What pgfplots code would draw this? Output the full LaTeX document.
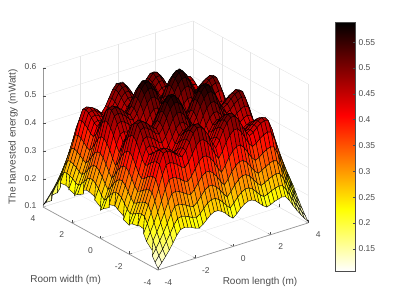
\documentclass[border=0pt]{standalone}
\usepackage{pgfplots}
\usepackage{fontspec}
\setmainfont{Liberation Sans}
\pgfplotsset{compat=1.18}
\definecolor{axc}{gray}{0.3}
\definecolor{axl}{gray}{0.6}
\definecolor{gridc}{gray}{0.9}
\pgfplotsset{colormap={hotr}{color(0)=(white) color(0.25)=(yellow) color(0.625)=(red) color(1)=(black)}}
\begin{document}
\begin{tikzpicture}
\path[use as bounding box] (0,0) rectangle (407pt,305pt);
\begin{axis}[
  disabledatascaling, anchor=origin, at={(175.5pt,90pt)},
  x={(18.75pt,5.875pt)}, y={(-14.375pt,7.875pt)}, z={(0pt,278pt)},
  xmin=-4,xmax=4,ymin=-4,ymax=4,zmin=0.1,zmax=0.6,
  xtick={-4,-2,0,2,4}, ytick={-4,-2,0,2,4}, ztick={0.1,0.2,0.3,0.4,0.5,0.6},
  /pgf/number format/assume math mode=true,
  /pgf/number format/fixed,
  grid=major, major grid style={gridc,line width=0.4pt},
  axis line style={draw=none},
  major z tick style={draw=none},
  tick style={axc,line width=0.4pt}, tick align=inside, major tick length=3pt,
  xtick pos=left, ytick pos=left,
  ticklabel style={font=\fontsize{8.5}{10}\selectfont,text=axc},
  xticklabel style={xshift=6pt,yshift=-5pt},
  yticklabel style={xshift=-5pt,yshift=-5pt},
  zticklabel style={xshift=-3pt},
  point meta min=0.107, point meta max=0.589,
  colormap name=hotr,
  clip=false,
  xlabel={Room length (m)}, ylabel={Room width (m)}, zlabel={The harvested energy (mWatt)},
  every axis x label/.style={at={(axis cs:4.507,0,-0.2374)},anchor=center,font=\fontsize{10}{12}\selectfont,text=axc},
  every axis y label/.style={at={(axis cs:0,7.645,-0.3503)},anchor=center,font=\fontsize{10}{12}\selectfont,text=axc},
  every axis z label/.style={at={(axis cs:0,11.3,0.0604)},anchor=center,rotate=90,font=\fontsize{10}{12}\selectfont,text=axc},
]
\draw[axl,line width=0.8pt] (axis cs:-4,4,0.1)--(axis cs:-4,4,0.6);
\draw[axl,line width=0.7pt] (axis cs:-4,4,0.1)--(axis cs:-4,-4,0.1)--(axis cs:4,-4,0.1);
\addplot3[surf,shader=faceted,faceted color=black,line width=0.36pt,mesh/rows=41,mesh/cols=41] table[row sep=\\,header=false,x expr={-4+0.2*mod(\coordindex,41)},y expr={-4+0.2*floor(\coordindex/41)},z index=0] {
.106\\.122\\.140\\.159\\.180\\.203\\.220\\.223\\.219\\.215\\.208\\.204\\.213\\.226\\.239\\.246\\.246\\.239\\.228\\.213\\.202\\.213\\.228\\.239\\.246\\.246\\.239\\.226\\.213\\.204\\.208\\.215\\.219\\.223\\.220\\.203\\.180\\.159\\.140\\.122\\.106\\
.122\\.141\\.161\\.184\\.208\\.234\\.254\\.257\\.253\\.248\\.240\\.236\\.246\\.261\\.276\\.284\\.284\\.276\\.263\\.246\\.233\\.246\\.263\\.276\\.284\\.284\\.276\\.261\\.246\\.236\\.240\\.248\\.253\\.257\\.254\\.234\\.208\\.184\\.161\\.141\\.122\\
.140\\.161\\.185\\.211\\.239\\.269\\.292\\.295\\.290\\.284\\.275\\.270\\.282\\.299\\.316\\.326\\.326\\.316\\.301\\.282\\.267\\.282\\.301\\.316\\.326\\.326\\.316\\.299\\.282\\.270\\.275\\.284\\.290\\.295\\.292\\.269\\.239\\.211\\.185\\.161\\.140\\
.159\\.184\\.211\\.240\\.272\\.306\\.332\\.336\\.331\\.323\\.314\\.308\\.321\\.341\\.360\\.371\\.371\\.360\\.343\\.321\\.304\\.321\\.343\\.360\\.371\\.371\\.360\\.341\\.321\\.308\\.314\\.323\\.331\\.336\\.332\\.306\\.272\\.240\\.211\\.184\\.159\\
.180\\.208\\.239\\.272\\.308\\.347\\.376\\.380\\.375\\.366\\.355\\.349\\.364\\.386\\.408\\.421\\.420\\.408\\.389\\.364\\.344\\.364\\.389\\.408\\.420\\.421\\.408\\.386\\.364\\.349\\.355\\.366\\.375\\.380\\.376\\.347\\.308\\.272\\.239\\.208\\.180\\
.203\\.234\\.269\\.306\\.347\\.391\\.424\\.428\\.422\\.413\\.400\\.393\\.409\\.434\\.459\\.474\\.473\\.459\\.438\\.409\\.388\\.409\\.438\\.459\\.473\\.474\\.459\\.434\\.409\\.393\\.400\\.413\\.422\\.428\\.424\\.391\\.347\\.306\\.269\\.234\\.203\\
.220\\.254\\.292\\.332\\.376\\.424\\.460\\.464\\.458\\.447\\.434\\.426\\.444\\.471\\.498\\.514\\.513\\.498\\.475\\.444\\.420\\.444\\.475\\.498\\.513\\.514\\.498\\.471\\.444\\.426\\.434\\.447\\.458\\.464\\.460\\.424\\.376\\.332\\.292\\.254\\.220\\
.223\\.257\\.295\\.336\\.380\\.428\\.464\\.469\\.462\\.452\\.438\\.430\\.449\\.476\\.503\\.519\\.519\\.503\\.480\\.449\\.425\\.449\\.480\\.503\\.519\\.519\\.503\\.476\\.449\\.430\\.438\\.452\\.462\\.469\\.464\\.428\\.380\\.336\\.295\\.257\\.223\\
.219\\.253\\.290\\.331\\.375\\.422\\.458\\.462\\.456\\.446\\.432\\.424\\.442\\.469\\.496\\.512\\.511\\.496\\.473\\.442\\.419\\.442\\.473\\.496\\.511\\.512\\.496\\.469\\.442\\.424\\.432\\.446\\.456\\.462\\.458\\.422\\.375\\.331\\.290\\.253\\.219\\
.215\\.248\\.284\\.323\\.366\\.413\\.447\\.452\\.446\\.436\\.422\\.414\\.432\\.459\\.485\\.500\\.500\\.485\\.462\\.432\\.409\\.432\\.462\\.485\\.500\\.500\\.485\\.459\\.432\\.414\\.422\\.436\\.446\\.452\\.447\\.413\\.366\\.323\\.284\\.248\\.215\\
.208\\.240\\.275\\.314\\.355\\.400\\.434\\.438\\.432\\.422\\.410\\.402\\.419\\.445\\.470\\.485\\.484\\.470\\.448\\.419\\.397\\.419\\.448\\.470\\.484\\.485\\.470\\.445\\.419\\.402\\.410\\.422\\.432\\.438\\.434\\.400\\.355\\.314\\.275\\.240\\.208\\
.204\\.236\\.270\\.308\\.349\\.393\\.426\\.430\\.424\\.414\\.402\\.394\\.411\\.436\\.462\\.476\\.475\\.462\\.440\\.411\\.389\\.411\\.440\\.462\\.475\\.476\\.462\\.436\\.411\\.394\\.402\\.414\\.424\\.430\\.426\\.393\\.349\\.308\\.270\\.236\\.204\\
.213\\.246\\.282\\.321\\.364\\.409\\.444\\.449\\.442\\.432\\.419\\.411\\.429\\.455\\.481\\.496\\.496\\.481\\.459\\.429\\.406\\.429\\.459\\.481\\.496\\.496\\.481\\.455\\.429\\.411\\.419\\.432\\.442\\.449\\.444\\.409\\.364\\.321\\.282\\.246\\.213\\
.226\\.261\\.299\\.341\\.386\\.434\\.471\\.476\\.469\\.459\\.445\\.436\\.455\\.483\\.511\\.527\\.526\\.511\\.487\\.455\\.431\\.455\\.487\\.511\\.526\\.527\\.511\\.483\\.455\\.436\\.445\\.459\\.469\\.476\\.471\\.434\\.386\\.341\\.299\\.261\\.226\\
.239\\.276\\.316\\.360\\.408\\.459\\.498\\.503\\.496\\.485\\.470\\.462\\.481\\.511\\.540\\.557\\.556\\.540\\.515\\.481\\.456\\.481\\.515\\.540\\.556\\.557\\.540\\.511\\.481\\.462\\.470\\.485\\.496\\.503\\.498\\.459\\.408\\.360\\.316\\.276\\.239\\
.246\\.284\\.326\\.371\\.421\\.474\\.514\\.519\\.512\\.500\\.485\\.476\\.496\\.527\\.557\\.575\\.574\\.557\\.531\\.496\\.470\\.496\\.531\\.557\\.574\\.575\\.557\\.527\\.496\\.476\\.485\\.500\\.512\\.519\\.514\\.474\\.421\\.371\\.326\\.284\\.246\\
.246\\.284\\.326\\.371\\.420\\.473\\.513\\.519\\.511\\.500\\.484\\.475\\.496\\.526\\.556\\.574\\.573\\.556\\.530\\.496\\.469\\.496\\.530\\.556\\.573\\.574\\.556\\.526\\.496\\.475\\.484\\.500\\.511\\.519\\.513\\.473\\.420\\.371\\.326\\.284\\.246\\
.239\\.276\\.316\\.360\\.408\\.459\\.498\\.503\\.496\\.485\\.470\\.462\\.481\\.511\\.540\\.557\\.556\\.540\\.515\\.481\\.456\\.481\\.515\\.540\\.556\\.557\\.540\\.511\\.481\\.462\\.470\\.485\\.496\\.503\\.498\\.459\\.408\\.360\\.316\\.276\\.239\\
.228\\.263\\.301\\.343\\.389\\.438\\.475\\.480\\.473\\.462\\.448\\.440\\.459\\.487\\.515\\.531\\.530\\.515\\.490\\.459\\.434\\.459\\.490\\.515\\.530\\.531\\.515\\.487\\.459\\.440\\.448\\.462\\.473\\.480\\.475\\.438\\.389\\.343\\.301\\.263\\.228\\
.213\\.246\\.282\\.321\\.364\\.409\\.444\\.449\\.442\\.432\\.419\\.411\\.429\\.455\\.481\\.496\\.496\\.481\\.459\\.429\\.406\\.429\\.459\\.481\\.496\\.496\\.481\\.455\\.429\\.411\\.419\\.432\\.442\\.449\\.444\\.409\\.364\\.321\\.282\\.246\\.213\\
.202\\.233\\.267\\.304\\.344\\.388\\.420\\.425\\.419\\.409\\.397\\.389\\.406\\.431\\.456\\.470\\.469\\.456\\.434\\.406\\.384\\.406\\.434\\.456\\.469\\.470\\.456\\.431\\.406\\.389\\.397\\.409\\.419\\.425\\.420\\.388\\.344\\.304\\.267\\.233\\.202\\
.213\\.246\\.282\\.321\\.364\\.409\\.444\\.449\\.442\\.432\\.419\\.411\\.429\\.455\\.481\\.496\\.496\\.481\\.459\\.429\\.406\\.429\\.459\\.481\\.496\\.496\\.481\\.455\\.429\\.411\\.419\\.432\\.442\\.449\\.444\\.409\\.364\\.321\\.282\\.246\\.213\\
.228\\.263\\.301\\.343\\.389\\.438\\.475\\.480\\.473\\.462\\.448\\.440\\.459\\.487\\.515\\.531\\.530\\.515\\.490\\.459\\.434\\.459\\.490\\.515\\.530\\.531\\.515\\.487\\.459\\.440\\.448\\.462\\.473\\.480\\.475\\.438\\.389\\.343\\.301\\.263\\.228\\
.239\\.276\\.316\\.360\\.408\\.459\\.498\\.503\\.496\\.485\\.470\\.462\\.481\\.511\\.540\\.557\\.556\\.540\\.515\\.481\\.456\\.481\\.515\\.540\\.556\\.557\\.540\\.511\\.481\\.462\\.470\\.485\\.496\\.503\\.498\\.459\\.408\\.360\\.316\\.276\\.239\\
.246\\.284\\.326\\.371\\.420\\.473\\.513\\.519\\.511\\.500\\.484\\.475\\.496\\.526\\.556\\.574\\.573\\.556\\.530\\.496\\.469\\.496\\.530\\.556\\.573\\.574\\.556\\.526\\.496\\.475\\.484\\.500\\.511\\.519\\.513\\.473\\.420\\.371\\.326\\.284\\.246\\
.246\\.284\\.326\\.371\\.421\\.474\\.514\\.519\\.512\\.500\\.485\\.476\\.496\\.527\\.557\\.575\\.574\\.557\\.531\\.496\\.470\\.496\\.531\\.557\\.574\\.575\\.557\\.527\\.496\\.476\\.485\\.500\\.512\\.519\\.514\\.474\\.421\\.371\\.326\\.284\\.246\\
.239\\.276\\.316\\.360\\.408\\.459\\.498\\.503\\.496\\.485\\.470\\.462\\.481\\.511\\.540\\.557\\.556\\.540\\.515\\.481\\.456\\.481\\.515\\.540\\.556\\.557\\.540\\.511\\.481\\.462\\.470\\.485\\.496\\.503\\.498\\.459\\.408\\.360\\.316\\.276\\.239\\
.226\\.261\\.299\\.341\\.386\\.434\\.471\\.476\\.469\\.459\\.445\\.436\\.455\\.483\\.511\\.527\\.526\\.511\\.487\\.455\\.431\\.455\\.487\\.511\\.526\\.527\\.511\\.483\\.455\\.436\\.445\\.459\\.469\\.476\\.471\\.434\\.386\\.341\\.299\\.261\\.226\\
.213\\.246\\.282\\.321\\.364\\.409\\.444\\.449\\.442\\.432\\.419\\.411\\.429\\.455\\.481\\.496\\.496\\.481\\.459\\.429\\.406\\.429\\.459\\.481\\.496\\.496\\.481\\.455\\.429\\.411\\.419\\.432\\.442\\.449\\.444\\.409\\.364\\.321\\.282\\.246\\.213\\
.204\\.236\\.270\\.308\\.349\\.393\\.426\\.430\\.424\\.414\\.402\\.394\\.411\\.436\\.462\\.476\\.475\\.462\\.440\\.411\\.389\\.411\\.440\\.462\\.475\\.476\\.462\\.436\\.411\\.394\\.402\\.414\\.424\\.430\\.426\\.393\\.349\\.308\\.270\\.236\\.204\\
.208\\.240\\.275\\.314\\.355\\.400\\.434\\.438\\.432\\.422\\.410\\.402\\.419\\.445\\.470\\.485\\.484\\.470\\.448\\.419\\.397\\.419\\.448\\.470\\.484\\.485\\.470\\.445\\.419\\.402\\.410\\.422\\.432\\.438\\.434\\.400\\.355\\.314\\.275\\.240\\.208\\
.215\\.248\\.284\\.323\\.366\\.413\\.447\\.452\\.446\\.436\\.422\\.414\\.432\\.459\\.485\\.500\\.500\\.485\\.462\\.432\\.409\\.432\\.462\\.485\\.500\\.500\\.485\\.459\\.432\\.414\\.422\\.436\\.446\\.452\\.447\\.413\\.366\\.323\\.284\\.248\\.215\\
.219\\.253\\.290\\.331\\.375\\.422\\.458\\.462\\.456\\.446\\.432\\.424\\.442\\.469\\.496\\.512\\.511\\.496\\.473\\.442\\.419\\.442\\.473\\.496\\.511\\.512\\.496\\.469\\.442\\.424\\.432\\.446\\.456\\.462\\.458\\.422\\.375\\.331\\.290\\.253\\.219\\
.223\\.257\\.295\\.336\\.380\\.428\\.464\\.469\\.462\\.452\\.438\\.430\\.449\\.476\\.503\\.519\\.519\\.503\\.480\\.449\\.425\\.449\\.480\\.503\\.519\\.519\\.503\\.476\\.449\\.430\\.438\\.452\\.462\\.469\\.464\\.428\\.380\\.336\\.295\\.257\\.223\\
.220\\.254\\.292\\.332\\.376\\.424\\.460\\.464\\.458\\.447\\.434\\.426\\.444\\.471\\.498\\.514\\.513\\.498\\.475\\.444\\.420\\.444\\.475\\.498\\.513\\.514\\.498\\.471\\.444\\.426\\.434\\.447\\.458\\.464\\.460\\.424\\.376\\.332\\.292\\.254\\.220\\
.203\\.234\\.269\\.306\\.347\\.391\\.424\\.428\\.422\\.413\\.400\\.393\\.409\\.434\\.459\\.474\\.473\\.459\\.438\\.409\\.388\\.409\\.438\\.459\\.473\\.474\\.459\\.434\\.409\\.393\\.400\\.413\\.422\\.428\\.424\\.391\\.347\\.306\\.269\\.234\\.203\\
.180\\.208\\.239\\.272\\.308\\.347\\.376\\.380\\.375\\.366\\.355\\.349\\.364\\.386\\.408\\.421\\.420\\.408\\.389\\.364\\.344\\.364\\.389\\.408\\.420\\.421\\.408\\.386\\.364\\.349\\.355\\.366\\.375\\.380\\.376\\.347\\.308\\.272\\.239\\.208\\.180\\
.159\\.184\\.211\\.240\\.272\\.306\\.332\\.336\\.331\\.323\\.314\\.308\\.321\\.341\\.360\\.371\\.371\\.360\\.343\\.321\\.304\\.321\\.343\\.360\\.371\\.371\\.360\\.341\\.321\\.308\\.314\\.323\\.331\\.336\\.332\\.306\\.272\\.240\\.211\\.184\\.159\\
.140\\.161\\.185\\.211\\.239\\.269\\.292\\.295\\.290\\.284\\.275\\.270\\.282\\.299\\.316\\.326\\.326\\.316\\.301\\.282\\.267\\.282\\.301\\.316\\.326\\.326\\.316\\.299\\.282\\.270\\.275\\.284\\.290\\.295\\.292\\.269\\.239\\.211\\.185\\.161\\.140\\
.122\\.141\\.161\\.184\\.208\\.234\\.254\\.257\\.253\\.248\\.240\\.236\\.246\\.261\\.276\\.284\\.284\\.276\\.263\\.246\\.233\\.246\\.263\\.276\\.284\\.284\\.276\\.261\\.246\\.236\\.240\\.248\\.253\\.257\\.254\\.234\\.208\\.184\\.161\\.141\\.122\\
.106\\.122\\.140\\.159\\.180\\.203\\.220\\.223\\.219\\.215\\.208\\.204\\.213\\.226\\.239\\.246\\.246\\.239\\.228\\.213\\.202\\.213\\.228\\.239\\.246\\.246\\.239\\.226\\.213\\.204\\.208\\.215\\.219\\.223\\.220\\.203\\.180\\.159\\.140\\.122\\.106\\
};
\draw[axc,line width=0.4pt] (axis cs:-4,4,0.2)--++(3pt,0pt);
\draw[axc,line width=0.4pt] (axis cs:-4,4,0.3)--++(3pt,0pt);
\draw[axc,line width=0.4pt] (axis cs:-4,4,0.4)--++(3pt,0pt);
\draw[axc,line width=0.4pt] (axis cs:-4,4,0.5)--++(3pt,0pt);
\draw[axc,line width=0.4pt] (axis cs:-4,4,0.6)--++(3pt,0pt);
\end{axis}
\begin{axis}[
  at={(335pt,34pt)},anchor=south west,width=20pt,height=249pt,scale only axis,axis on top,
  xmin=0,xmax=1,ymin=0.107,ymax=0.589,
  xtick=\empty, ytick={0.15,0.2,0.25,0.3,0.35,0.4,0.45,0.5,0.55},
  yticklabels={0.15,0.2,0.25,0.3,0.35,0.4,0.45,0.5,0.55},
  ytick pos=right, yticklabel pos=right, tick align=inside, major tick length=2pt,
  tick style={axc,line width=0.4pt},
  axis line style={axc,line width=0.6pt},
  ticklabel style={font=\fontsize{8.5}{10}\selectfont,text=axc},
  point meta min=0.107, point meta max=0.589, colormap name=hotr,
]
\addplot[surf,shader=interp,mesh/rows=2,mesh/cols=2,point meta=y] coordinates {(0,0.107)(1,0.107)(0,0.589)(1,0.589)};
\end{axis}
\end{tikzpicture}
\end{document}
